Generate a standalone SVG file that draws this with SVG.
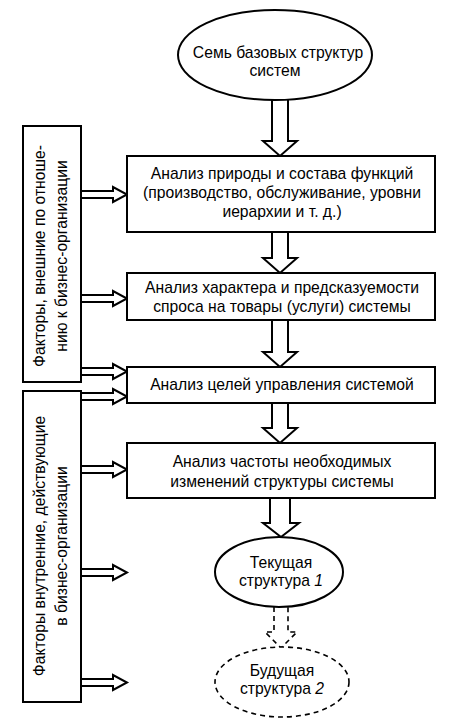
<svg xmlns="http://www.w3.org/2000/svg" width="457" height="722" viewBox="0 0 457 722">
<style>
.s{fill:#fff;stroke:#000;stroke-width:2}
.d{fill:#fff;stroke:#000;stroke-width:1.6;stroke-dasharray:5 4}
.t{font-family:"Liberation Sans",Arial,sans-serif;font-size:15.7px;fill:#000;text-anchor:middle}
.a{fill:#fff;stroke:#000;stroke-width:2;stroke-linejoin:miter}
</style>
<rect width="457" height="722" fill="#fff"/>
<g id="connectors">
<path class="a" d="M272,100 V141 H263 L280,156 L297,141 H288 V100"/>
<path class="a" d="M272,232 V258 H263 L280,273 L297,258 H288 V232"/>
<path class="a" d="M272,320 V352 H263 L280,367 L297,352 H288 V320"/>
<path class="a" d="M272,403 V428 H263 L280,443 L297,428 H288 V403"/>
<path class="a" d="M270,498 V523 H263 L281,537 L299,523 H290 V498"/>
<path class="d" d="M274,607 V632 H265 L281,648 L297,632 H288 V607"/>
<path class="a" d="M81,191 H113 V187 L127,194.5 L113,202 V198 H81"/>
<path class="a" d="M81,295 H113 V291 L127,298.5 L113,306 V302 H81"/>
<path class="a" d="M81,368 H113 V364 L127,371.5 L113,379 V375 H81"/>
<path class="a" d="M81,393 H113 V389 L127,396.5 L113,404 V400 H81"/>
<path class="a" d="M81,466 H113 V462 L127,469.5 L113,477 V473 H81"/>
<path class="a" d="M81,569 H113 V565 L127,572.5 L113,580 V576 H81"/>
<path class="a" d="M81,679 H113 V675 L127,682.5 L113,690 V686 H81"/>
</g>
<g id="n0">
<ellipse class="s" cx="275" cy="55" rx="97" ry="45"/>
<text class="t" x="278" y="58">Семь базовых структур</text>
<text class="t" x="275" y="76">систем</text>
</g>
<g id="n1">
<rect class="s" x="127" y="156" width="308" height="76"/>
<text class="t" x="282" y="179">Анализ природы и состава функций</text>
<text class="t" x="282" y="198">(производство, обслуживание, уровни</text>
<text class="t" x="282" y="217">иерархии и т. д.)</text>
</g>
<g id="n2">
<rect class="s" x="127" y="273" width="308" height="47"/>
<text class="t" x="282" y="293">Анализ характера и предсказуемости</text>
<text class="t" x="282" y="312">спроса на товары (услуги) системы</text>
</g>
<g id="n3">
<rect class="s" x="127" y="367" width="308" height="36"/>
<text class="t" x="282" y="390">Анализ целей управления системой</text>
</g>
<g id="n4">
<rect class="s" x="127" y="443" width="308" height="55"/>
<text class="t" x="282" y="467">Анализ частоты необходимых</text>
<text class="t" x="282" y="487">изменений структуры системы</text>
</g>
<g id="n5">
<ellipse class="s" cx="279" cy="572" rx="64" ry="35"/>
<text class="t" x="281" y="568">Текущая</text>
<text class="t" x="281" y="586">структура <tspan font-style="italic">1</tspan></text>
</g>
<g id="n6">
<ellipse class="d" cx="282" cy="682" rx="67" ry="35"/>
<text class="t" x="282" y="676">Будущая</text>
<text class="t" x="282" y="694">структура <tspan font-style="italic">2</tspan></text>
</g>
<g id="n7">
<rect class="s" x="23" y="126" width="58" height="256"/>
<text class="t" transform="translate(45,256) rotate(-90)">Факторы, внешние по отноше-</text>
<text class="t" transform="translate(67,256) rotate(-90)">нию к бизнес-организации</text>
</g>
<g id="n8">
<rect class="s" x="23" y="391" width="58" height="311"/>
<text class="t" transform="translate(45,546) rotate(-90)">Факторы внутренние, действующие</text>
<text class="t" transform="translate(67,546) rotate(-90)">в бизнес-организации</text>
</g>
</svg>
